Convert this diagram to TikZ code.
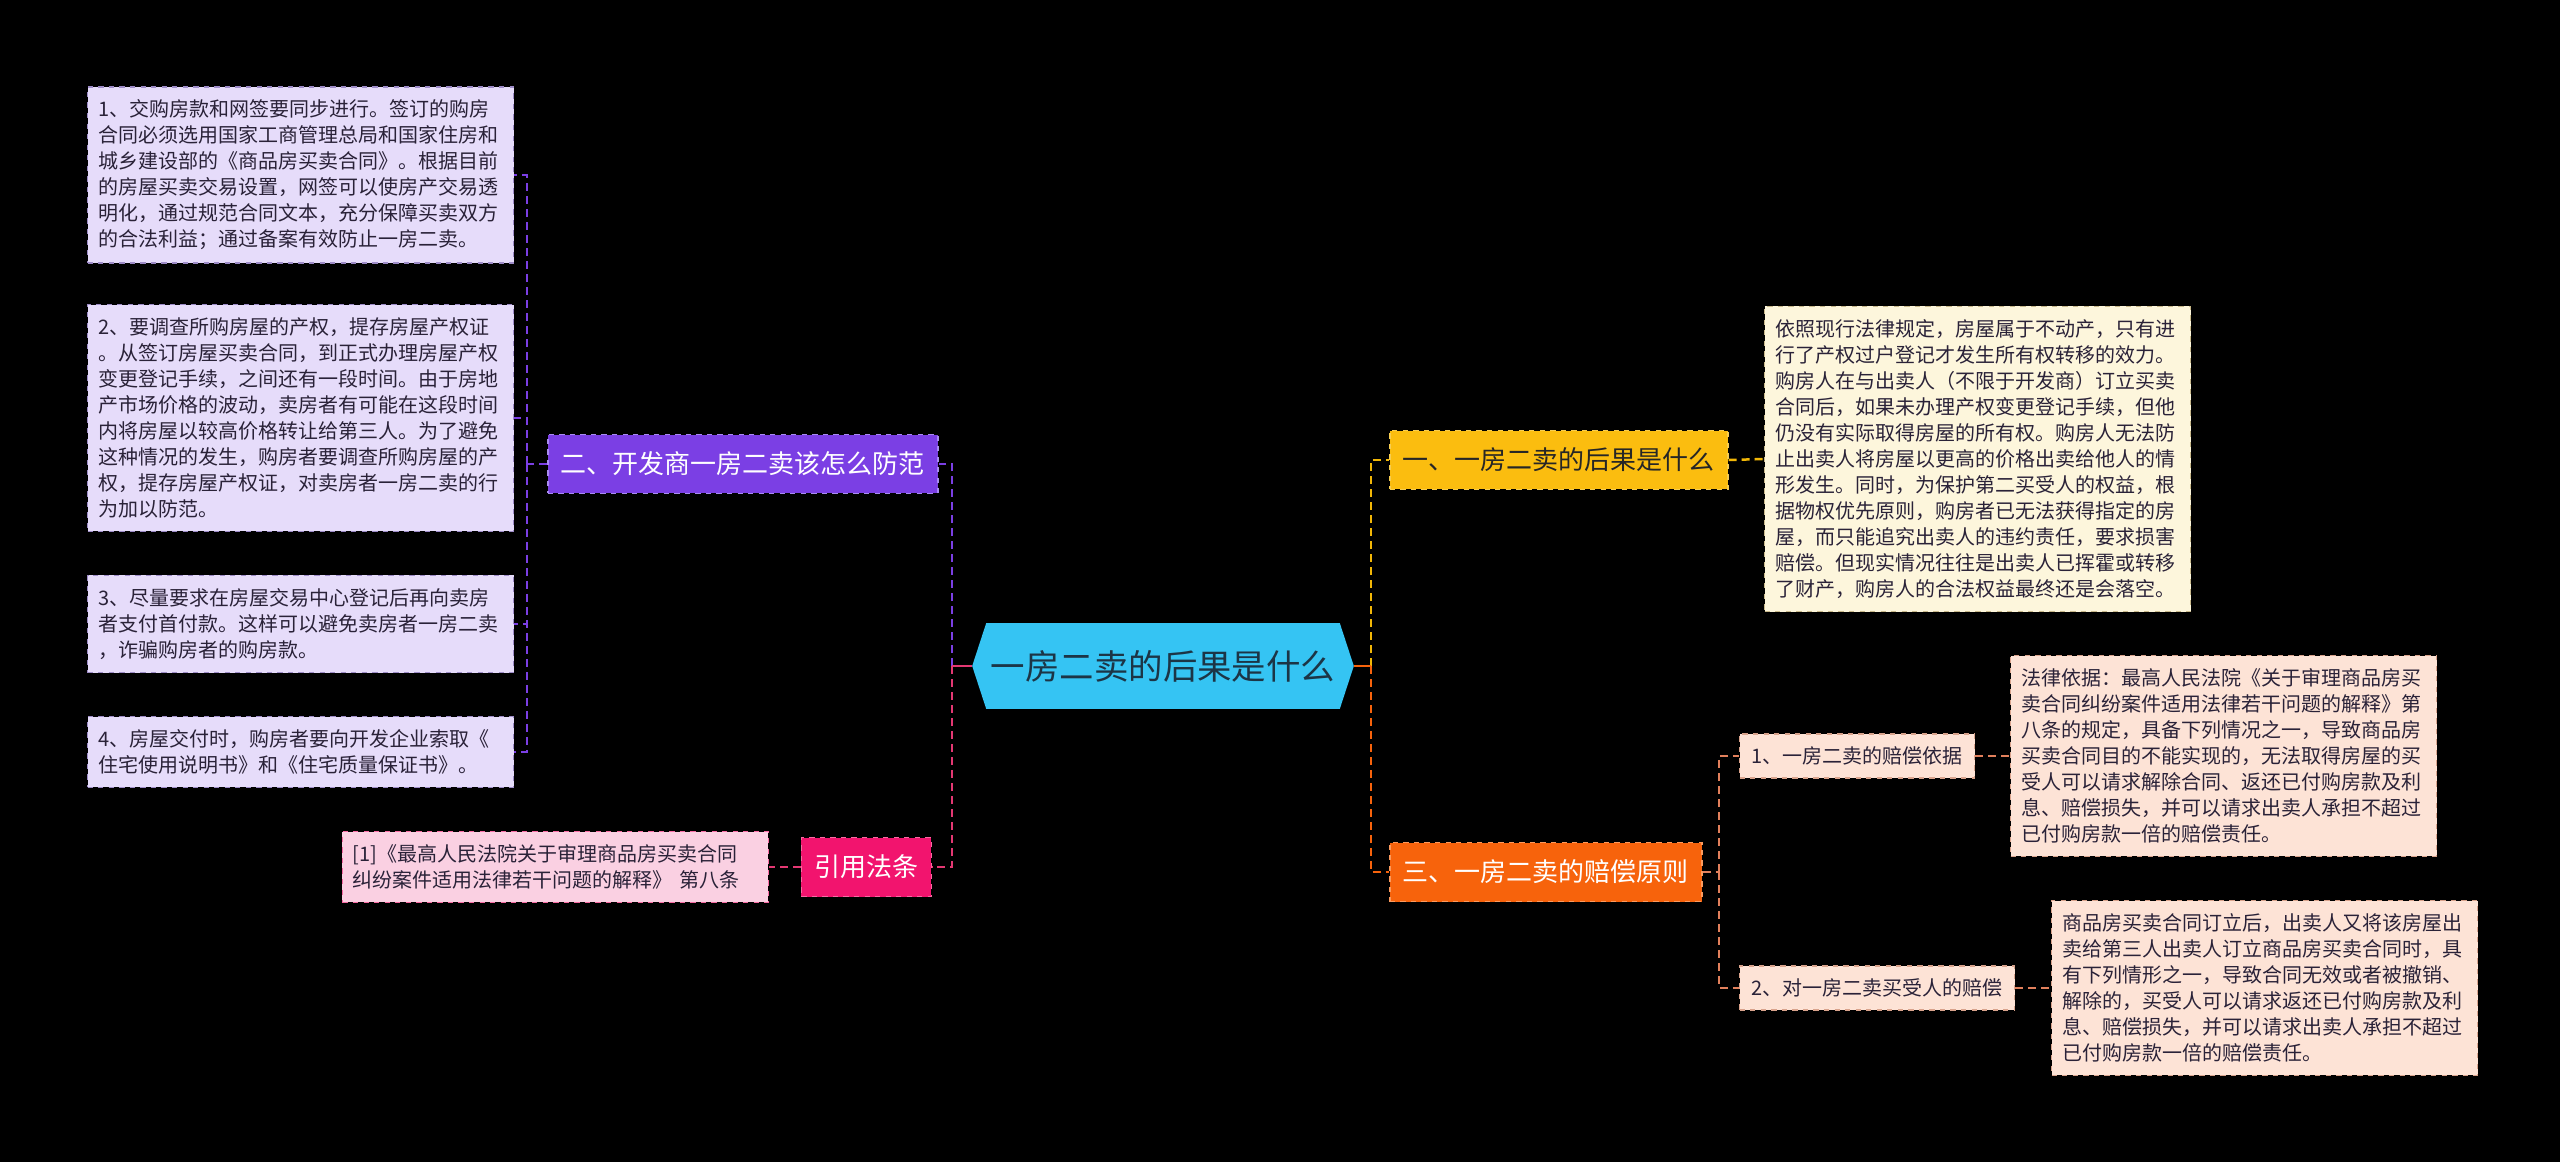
\documentclass[tikz,border=0pt]{standalone}
\usepackage{fontspec}
\setmainfont{Noto Sans CJK SC}
\usetikzlibrary{backgrounds}
\definecolor{rootfill}{HTML}{35C4F3}
\definecolor{roottext}{HTML}{1C3546}
\definecolor{violet2}{HTML}{7B3FE4}
\definecolor{violetedge}{HTML}{A98BF2}
\definecolor{lavender}{HTML}{E6DCFA}
\definecolor{lavenderedge}{HTML}{9E8CC8}
\definecolor{leaftext}{HTML}{2A2238}
\definecolor{rose}{HTML}{F2146E}
\definecolor{roseedge}{HTML}{F76BA3}
\definecolor{roseline}{HTML}{E43873}
\definecolor{blush}{HTML}{FAD0E2}
\definecolor{gold}{HTML}{FBBD0F}
\definecolor{goldline}{HTML}{F2B707}
\definecolor{cream}{HTML}{FDF6DC}
\definecolor{creamedge}{HTML}{C9B98B}
\definecolor{tangerine}{HTML}{F7630C}
\definecolor{tangerineedge}{HTML}{FB9A5E}
\definecolor{salmon}{HTML}{E2805C}
\definecolor{peach}{HTML}{FDE3D6}
\definecolor{peachedge}{HTML}{D9A38C}
\begin{document}
\begin{tikzpicture}[x=0.02cm,y=-0.02cm,
	conn/.style={line width=0.5mm,dash pattern=on 1.6mm off 1mm},
	head/.style={inner xsep=2.6mm,minimum height=11.8mm,font=\fontsize{14.8}{18}\selectfont,draw,dashed,line width=0.3mm},
	leaf/.style={text width=8.1cm,align=left,inner xsep=2.1mm,inner ysep=2.6mm,font=\fontsize{11.38}{14.8}\selectfont,text=leaftext,draw,dashed,line width=0.25mm},
	sub/.style={inner xsep=2.4mm,minimum height=8.8mm,font=\fontsize{11.38}{14}\selectfont,text=leaftext,fill=peach,draw=peachedge,dashed,line width=0.25mm}]
	\useasboundingbox (0,0) rectangle (2560,1162);
	\begin{scope}[on background layer]
		\fill[black] (0,0) rectangle (2560,1162);
	\end{scope}
	\node[minimum width=76.2mm,minimum height=17mm,font=\fontsize{19.6}{22}\selectfont,text=roottext] (root) at (1163,666) {一房二卖的后果是什么};
	\begin{scope}[on background layer]
		\fill[rootfill] (root.west) -- ([xshift=2.8mm]root.north west) -- ([xshift=-2.8mm]root.north east) -- (root.east) -- ([xshift=-2.8mm]root.south east) -- ([xshift=2.8mm]root.south west) -- cycle;
	\end{scope}
	\node[head,anchor=west,fill=violet2,draw=violetedge,text=white] (b2) at (547,464) {二、开发商一房二卖该怎么防范};
	\node[head,anchor=east,fill=rose,draw=roseedge,text=white] (cite) at (932,867) {引用法条};
	\node[head,anchor=west,fill=gold,draw=goldline!70!white,text=black!85] (b1) at (1389,460) {一、一房二卖的后果是什么};
	\node[head,anchor=west,fill=tangerine,draw=tangerineedge,text=white] (b3) at (1389,872) {三、一房二卖的赔偿原则};
	\node[leaf,anchor=west,fill=lavender,draw=lavenderedge] (p1) at (87,175) {1、交购房款和网签要同步进行。签订的购房\\合同必须选用国家工商管理总局和国家住房和\\城乡建设部的《商品房买卖合同》。根据目前\\的房屋买卖交易设置，网签可以使房产交易透\\明化，通过规范合同文本，充分保障买卖双方\\的合法利益；通过备案有效防止一房二卖。};
	\node[leaf,anchor=west,fill=lavender,draw=lavenderedge] (p2) at (87,418) {2、要调查所购房屋的产权，提存房屋产权证\\。从签订房屋买卖合同，到正式办理房屋产权\\变更登记手续，之间还有一段时间。由于房地\\产市场价格的波动，卖房者有可能在这段时间\\内将房屋以较高价格转让给第三人。为了避免\\这种情况的发生，购房者要调查所购房屋的产\\权，提存房屋产权证，对卖房者一房二卖的行\\为加以防范。};
	\node[leaf,anchor=west,fill=lavender,draw=lavenderedge] (p3) at (87,624) {3、尽量要求在房屋交易中心登记后再向卖房\\者支付首付款。这样可以避免卖房者一房二卖\\，诈骗购房者的购房款。};
	\node[leaf,anchor=west,fill=lavender,draw=lavenderedge] (p4) at (87,752) {4、房屋交付时，购房者要向开发企业索取《\\住宅使用说明书》和《住宅质量保证书》。};
	\node[leaf,anchor=east,fill=blush,draw=roseedge] (ref) at (769,867) {[1]《最高人民法院关于审理商品房买卖合同\\纠纷案件适用法律若干问题的解释》 第八条};
	\node[leaf,anchor=west,fill=cream,draw=creamedge] (c1) at (1764,459) {依照现行法律规定，房屋属于不动产，只有进\\行了产权过户登记才发生所有权转移的效力。\\购房人在与出卖人（不限于开发商）订立买卖\\合同后，如果未办理产权变更登记手续，但他\\仍没有实际取得房屋的所有权。购房人无法防\\止出卖人将房屋以更高的价格出卖给他人的情\\形发生。同时，为保护第二买受人的权益，根\\据物权优先原则，购房者已无法获得指定的房\\屋，而只能追究出卖人的违约责任，要求损害\\赔偿。但现实情况往往是出卖人已挥霍或转移\\了财产，购房人的合法权益最终还是会落空。};
	\node[sub,anchor=west] (s1) at (1739,756) {1、一房二卖的赔偿依据};
	\node[sub,anchor=west] (s2) at (1739,988) {2、对一房二卖买受人的赔偿};
	\node[leaf,anchor=west,fill=peach,draw=peachedge] (l1) at (2010,756) {法律依据：最高人民法院《关于审理商品房买\\卖合同纠纷案件适用法律若干问题的解释》第\\八条的规定，具备下列情况之一，导致商品房\\买卖合同目的不能实现的，无法取得房屋的买\\受人可以请求解除合同、返还已付购房款及利\\息、赔偿损失，并可以请求出卖人承担不超过\\已付购房款一倍的赔偿责任。};
	\node[leaf,anchor=west,fill=peach,draw=peachedge] (l2) at (2051,988) {商品房买卖合同订立后，出卖人又将该房屋出\\卖给第三人出卖人订立商品房买卖合同时，具\\有下列情形之一，导致合同无效或者被撤销、\\解除的，买受人可以请求返还已付购房款及利\\息、赔偿损失，并可以请求出卖人承担不超过\\已付购房款一倍的赔偿责任。};
	\coordinate (lj) at (952,666);
	\coordinate (lb) at (527,464);
	\coordinate (rj) at (1371,666);
	\coordinate (rb) at (1719,872);
	\draw[conn,violet2] (lj) |- (b2.east);
	\draw[conn,roseline] (lj) |- (cite.east);
	\draw[roseline,line width=0.5mm] (root.west) -- (lj);
	\draw[conn,violet2] (b2.west) -- (lb);
	\foreach \n in {p1,p2,p3,p4}
		\draw[conn,violet2] (lb) |- (\n.east);
	\draw[conn,roseline] (cite.west) -- (ref.east);
	\draw[conn,goldline] (rj) |- (b1.west);
	\draw[conn,tangerine] (rj) |- (b3.west);
	\draw[tangerine,line width=0.5mm] (root.east) -- (rj);
	\draw[conn,goldline] (b1.east) -- (c1.west);
	\draw[conn,salmon] (b3.east) -- (rb);
	\foreach \n in {s1,s2}
		\draw[conn,salmon] (rb) |- (\n.west);
	\draw[conn,salmon] (s1.east) -- (l1.west);
	\draw[conn,salmon] (s2.east) -- (l2.west);
\end{tikzpicture}
\end{document}
